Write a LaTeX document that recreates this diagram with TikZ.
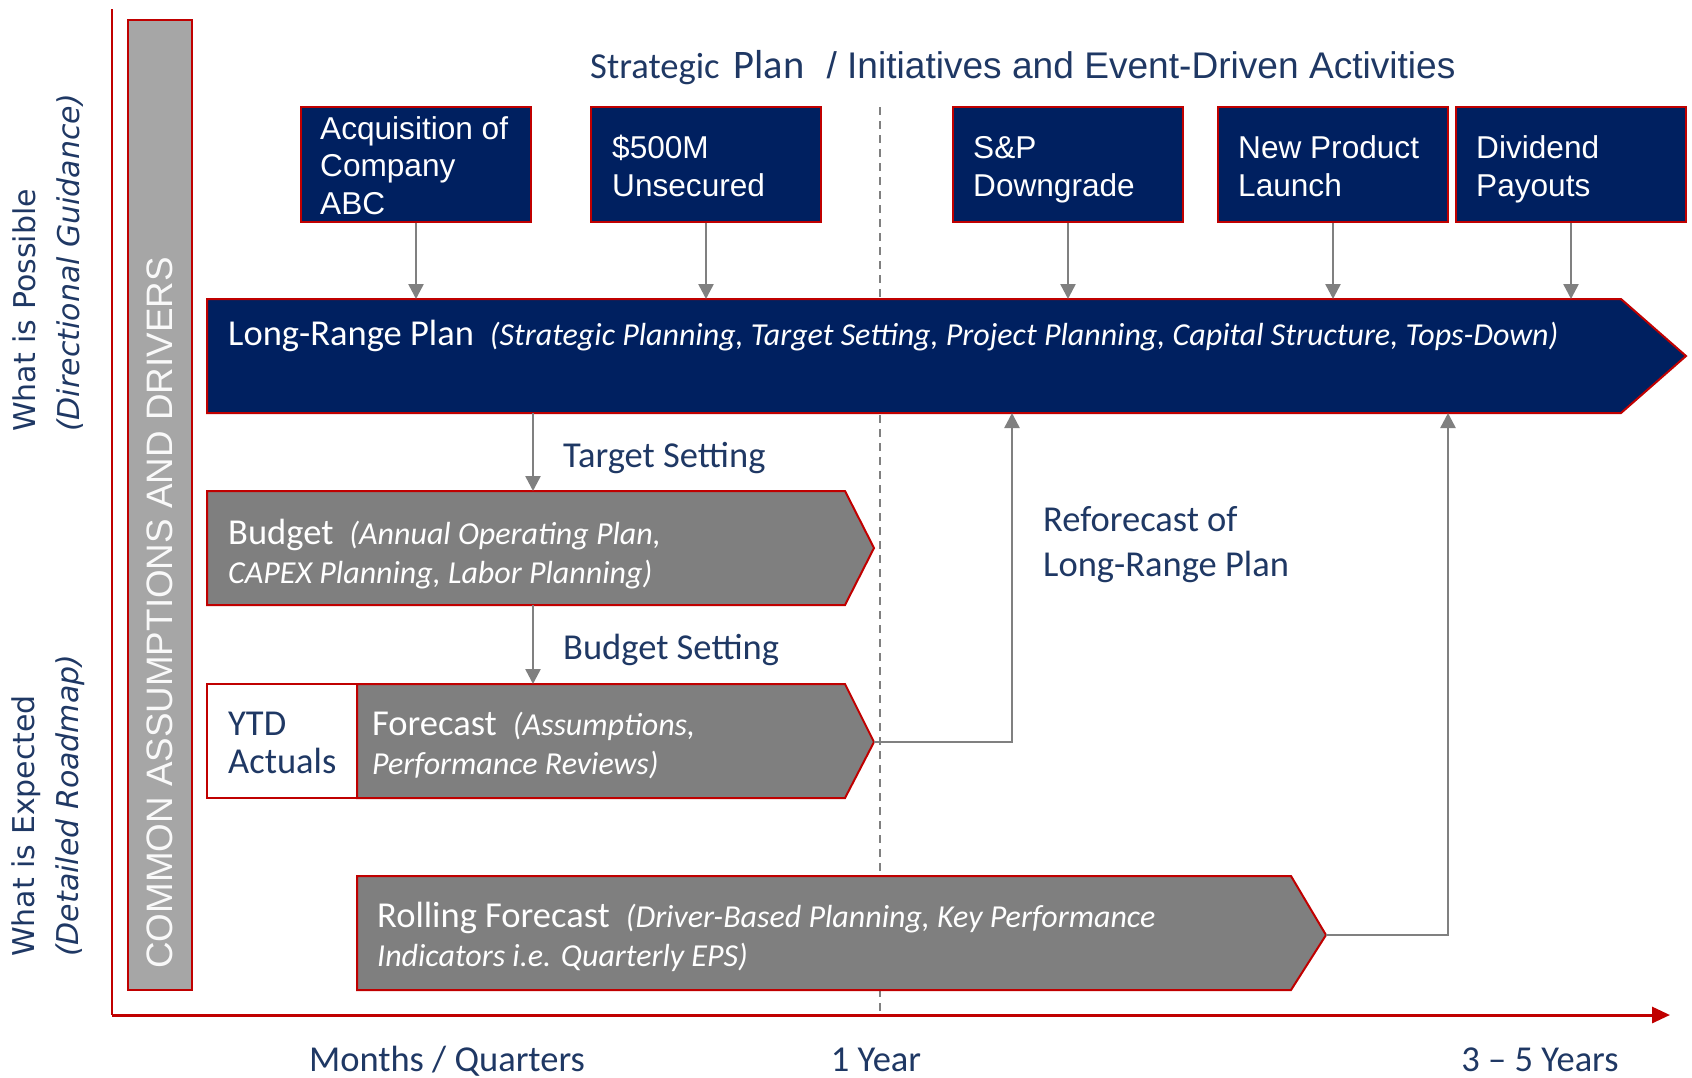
\documentclass[tikz,border=0pt]{standalone}
\usepackage{fontspec}
\setmainfont{Liberation Sans}
\newfontfamily\calfont{Carlito}
\newfontfamily\verfont{DejaVu Sans}
\usetikzlibrary{arrows.meta}
\definecolor{navy}{HTML}{002060}
\definecolor{bred}{HTML}{C00000}
\definecolor{dgray}{HTML}{7F7F7F}
\definecolor{lgray}{HTML}{A6A6A6}
\definecolor{txtnavy}{HTML}{1F3864}
\definecolor{conngray}{HTML}{808080}
\newcommand\fsz[2]{\fontsize{#1}{#2}\selectfont}
\newcommand\itl[1]{{\itshape\fsz{32}{39}#1}}
\begin{document}
\begin{tikzpicture}[x=1pt,y=-1pt,
 eventbox/.style={draw=bred, line width=2pt, fill=navy, minimum width=230pt, minimum height=115pt, inner sep=0pt},
 evtext/.style={text=white, font=\fsz{31.6}{37.7}, align=left, inner sep=0pt, anchor=base west},
 chev/.style={draw=bred, line width=2pt, fill=dgray},
 conn/.style={draw=conngray, line width=2.5pt, -{Triangle[width=15pt,length=15pt]}},
 lbl/.style={text=txtnavy, font=\calfont\fsz{36.5}{40}, inner sep=0pt},
 intxt/.style={text=white, font=\calfont\fsz{36.5}{39}, inner sep=0pt, align=left, anchor=base west},
]
\useasboundingbox (0,0) rectangle (1692,1077);

% gray side bar
\node[draw=bred, line width=2pt, fill=lgray, minimum width=64pt, minimum height=970pt, inner sep=0pt] (bar) at (160,505) {};
\node[rotate=90, text=white!95!gray, font=\fsz{36.8}{40}, inner sep=0pt] (cad) at (160,613) {COMMON ASSUMPTIONS AND DRIVERS};

% dashed 1-year line
\coordinate (dashTop) at (880,107);
\coordinate (dashBot) at (880,1014);
\draw[conngray, line width=1.5pt, dash pattern=on 8pt off 6pt] (dashTop) -- (dashBot);

% side labels
\node[rotate=90, anchor=west, align=left, text=txtnavy, font=\verfont\fsz{30}{44}, inner sep=0pt] (possible) at (48,432) {What is Possible\\{\itshape (Directional Guidance)}};
\node[rotate=90, anchor=west, align=left, text=txtnavy, font=\verfont\fsz{30}{44}, inner sep=0pt] (expected) at (48,957) {What is Expected\\{\itshape (Detailed Roadmap)}};

% title
\node[anchor=base west, text=txtnavy, inner sep=0pt] (title) at (590,78) {{\calfont\fsz{36.6}{40}Strategic\hspace{14pt}}{\calfont\fsz{40.5}{44}Plan}\hspace{22pt}{\fsz{37.1}{40}/ Initiatives and Event-Driven Activities}};

% event boxes
\node[eventbox] (acq) at (416,164.5) {};
\node[eventbox] (usd) at (706,164.5) {};
\node[eventbox] (snp) at (1068,164.5) {};
\node[eventbox] (npl) at (1333,164.5) {};
\node[eventbox] (div) at (1571,164.5) {};
\node[evtext] (acqT) at (320,214.5) {Acquisition of\\Company\\ABC};
\node[evtext] (usdT) at (612,196.5) {\$500M\\Unsecured};
\node[evtext] (snpT) at (973,196.5) {S\&P\\Downgrade};
\node[evtext] (nplT) at (1238,196.5) {New Product\\Launch};
\node[evtext] (divT) at (1476,196.5) {Dividend\\Payouts};

% long-range plan chevron
\draw[chev, fill=navy] (207,299) -- (1621,299) -- (1686,356) -- (1621,413) -- (207,413) -- cycle;
\coordinate (lrpTop) at (207,299);
\coordinate (lrpBot) at (207,413);
\node[intxt] (lrpT) at (228,345) {Long-Range Plan\hspace{16pt}\itl{(Strategic Planning, Target Setting, Project Planning, Capital Structure, Tops-Down)}};

% budget chevron
\draw[chev] (207,491) -- (845,491) -- (874,548) -- (845,605) -- (207,605) -- cycle;
\coordinate (budTop) at (533,491);
\coordinate (budBot) at (533,605);
\node[intxt] (budT) at (228,583) {Budget\hspace{16pt}\itl{(Annual Operating Plan,}\\\itl{CAPEX Planning, Labor Planning)}};

% forecast row
\node[draw=bred, line width=2pt, fill=white, minimum width=150pt, minimum height=114pt, inner sep=0pt] (ytd) at (282,741) {};
\node[lbl, anchor=base west, align=left, font=\calfont\fsz{36.5}{38}] (ytdT) at (228,773) {YTD\\Actuals};
\draw[chev] (357,684) -- (845,684) -- (874,742) -- (845,798) -- (357,798) -- cycle;
\coordinate (fcTop) at (533,684);
\coordinate (fcTip) at (874,742);
\node[intxt] (fcT) at (372,774) {Forecast\hspace{16pt}\itl{(Assumptions,}\\\itl{Performance Reviews)}};

% rolling forecast
\draw[chev] (357,876) -- (1291,876) -- (1326,935) -- (1291,990) -- (357,990) -- cycle;
\coordinate (rfTip) at (1326,935);
\node[intxt] (rfT) at (377,966) {Rolling Forecast\hspace{16pt}\itl{(Driver-Based Planning, Key Performance}\\\itl{Indicators i.e. Quarterly EPS)}};

% connectors from events
\draw[conn] (acq.south) -- (acq.south |- lrpTop);
\draw[conn] (usd.south) -- (usd.south |- lrpTop);
\draw[conn] (snp.south) -- (snp.south |- lrpTop);
\draw[conn] (npl.south) -- (npl.south |- lrpTop);
\draw[conn] (div.south) -- (div.south |- lrpTop);

% vertical flow
\draw[conn] (budTop |- lrpBot) -- (budTop);
\draw[conn] (budBot) -- (fcTop);
\node[lbl, anchor=base west] (tsL) at (563,467) {Target Setting};
\node[lbl, anchor=base west] (bsL) at (563,659) {Budget Setting};

% reforecast connectors
\coordinate (lrpIn1) at (1012,413);
\coordinate (lrpIn2) at (1448,413);
\draw[conn] (fcTip) -| (lrpIn1);
\draw[conn] (rfTip) -| (lrpIn2);
\node[lbl, anchor=base west, align=left, font=\calfont\fsz{36.5}{45}] (refL) at (1043,576) {Reforecast of\\Long-Range Plan};

% axes
\coordinate (origin) at (112,1015);
\coordinate (yEnd) at (112,9);
\coordinate (xEnd) at (1670,1015);
\draw[bred, line width=2.5pt] (origin) -- (yEnd);
\draw[bred, line width=3pt, -{Triangle[width=16pt,length=18pt]}] (origin) -- (xEnd);

% axis labels
\node[lbl, anchor=base] (mq) at (447,1071) {Months / Quarters};
\node[lbl, anchor=base] (oy) at (876,1071) {1 Year};
\node[lbl, anchor=base] (ty) at (1540,1071) {3 – 5 Years};
\end{tikzpicture}
\end{document}
